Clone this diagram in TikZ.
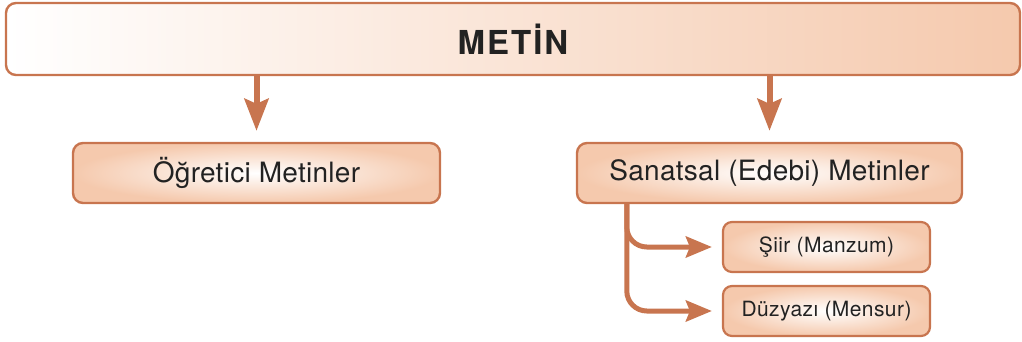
\documentclass[tikz,border=0pt]{standalone}
\usepackage{fontspec}
\setmainfont{TeX Gyre Heros}
\usetikzlibrary{arrows.meta,calc}
\definecolor{rust}{HTML}{C8754F}
\definecolor{peach}{HTML}{F5C9AD}
\definecolor{txt}{HTML}{222222}
\begin{document}
\begin{tikzpicture}[x=1pt,y=-1pt,
  topbox/.style={draw=rust, line width=2.4pt, rounded corners=10pt, left color=white, right color=peach, minimum width=1014pt, minimum height=72pt, inner sep=0pt, text=txt, font=\fontsize{33}{38}\bfseries\selectfont\addfontfeature{LetterSpace=6}},
  midbox/.style={draw=rust, line width=2.4pt, rounded corners=10pt, inner color=white, outer color=peach, minimum height=60pt, inner sep=0pt, text=txt, font=\fontsize{28}{32}\selectfont\addfontfeature{LetterSpace=1}},
  smallbox/.style={draw=rust, line width=2.2pt, rounded corners=9pt, inner color=white, outer color=peach, minimum width=207pt, minimum height=50pt, inner sep=0pt, text=txt, font=\fontsize{21}{25}\selectfont\addfontfeature{LetterSpace=2}},
  bigarrow/.style={draw=rust, line width=6pt, -{Stealth[length=32pt,width=24pt,inset=5pt]}, shorten >=11pt},
  smallarrow/.style={draw=rust, line width=5pt, rounded corners=20pt, -{Stealth[length=26pt,width=21pt,inset=4pt]}, shorten >=10pt},
]
\useasboundingbox (0,0) rectangle (1022,342);
\node[topbox] (top) at (513,39) {METİN};
\node[midbox, minimum width=367pt] (og) at (256.5,173) {Öğretici Metinler};
\node[midbox, minimum width=385pt] (san) at (769.5,173) {Sanatsal (Edebi) Metinler};
\node[smallbox] (siir) at (826.5,247) {Şiir (Manzum)};
\node[smallbox] (duz) at (826.5,311) {Düzyazı (Mensur)};
\draw[bigarrow] (top.south -| og.north) -- (og.north);
\draw[bigarrow] (top.south -| san.north) -- (san.north);
\coordinate (br) at ($(san.south west)+(51,0)$);
\draw[smallarrow] (br) |- (siir.west);
\draw[smallarrow] (br) |- (duz.west);
\end{tikzpicture}
\end{document}
